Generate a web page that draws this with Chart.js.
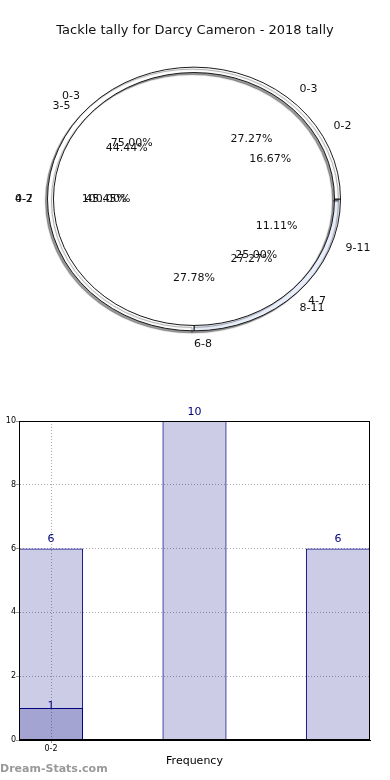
<!DOCTYPE html>
<html>
<head>
<meta charset="utf-8">
<script src="https://cdn.jsdelivr.net/npm/chart.js@4.4.1/dist/chart.umd.min.js"></script>
<style>
    body { margin: 0; background: #fff; font-family: 'DejaVu Sans', sans-serif; }
    #page { position: relative; width: 390px; height: 780px; overflow: hidden; }
    #title { position: absolute; top: 22px; left: 0; width: 390px; text-align: center; font-size: 13px; color: #111; }
    #pie-wrap { position: absolute; left: 0; top: 0; width: 390px; height: 380px; }
    #bar-wrap { position: absolute; left: 0; top: 380px; width: 390px; height: 400px; }
    #watermark { position: absolute; left: 0; top: 762px; font-size: 11px; font-weight: bold; color: #999; }
</style>
</head>
<body>
<div id="page">
    <div id="pie-wrap"><canvas id="pie-canvas"></canvas></div>
    <div id="title">Tackle tally for Darcy Cameron - 2018 tally</div>
    <div id="bar-wrap"><canvas id="bar-canvas"></canvas></div>
    <div id="watermark">Dream-Stats.com</div>
</div>
<script>
// four overlapping pies (matplotlib order: counter-clockwise from east)
const pieLabelsA = ['0-3', '4-7', '8-11'];
const pieValuesA = [3, 5, 3];
const pieLabelsB = ['0-2', '3-5', '6-8', '9-11'];
const pieValuesB = [3, 8, 5, 2];
const pieLabelsC = ['0-3', '4-7'];
const pieValuesC = [3, 1];
const pieLabelsD = ['0-2'];
const pieValuesD = [1];

// bar chart
const barPositions = [0, 1, 2];
const barTotals = [6, 10, 6];
const barSubPositions = [0];
const barSubValues = [1];
const xTickLabels = ['0-2'];

const squash = 0.9;
const labelFont = '11px "DejaVu Sans", sans-serif';

function pieSet(labels, values, extra) {
    // chart.js goes clockwise, so reverse to get the counter-clockwise look
    return Object.assign({
        data: values.slice().reverse(),
        sliceLabels: labels.slice().reverse(),
        clip: false,
        borderWidth: 1,
    }, extra);
}

const hiddenSlice = { backgroundColor: 'rgba(0,0,0,0)', borderColor: 'rgba(0,0,0,0)', borderWidth: 0, weight: 0 };

const pieLook = {
    id: 'pieLook',
    beforeDatasetsDraw(chart) {
        const { ctx, chartArea } = chart;
        const cx = (chartArea.left + chartArea.right) / 2;
        const cy = (chartArea.top + chartArea.bottom) / 2;
        ctx.save();
        ctx.translate(cx, cy);
        ctx.scale(1, squash);
        ctx.translate(-cx, -cy);
    },
    beforeDatasetDraw(chart, args) {
        const ctx = chart.ctx;
        ctx.save();
        const shadow = chart.data.datasets[args.index].shadow;
        if (shadow) {
            ctx.shadowColor = shadow;
            ctx.shadowOffsetX = -2;
            ctx.shadowOffsetY = 2;
            ctx.shadowBlur = 1;
        }
    },
    afterDatasetDraw(chart) {
        chart.ctx.restore();
    },
    afterDatasetsDraw(chart) {
        const ctx = chart.ctx;
        ctx.restore();
        const R = chart.getDatasetMeta(0).data[0].outerRadius;
        ctx.save();
        ctx.font = labelFont;
        ctx.fillStyle = '#111';
        ctx.textBaseline = 'middle';
        chart.data.datasets.forEach((ds, i) => {
            const meta = chart.getDatasetMeta(i);
            const total = ds.data.reduce((a, b) => a + b, 0);
            meta.data.forEach((arc, j) => {
                const mid = (arc.startAngle + arc.endAngle) / 2;
                const cos = Math.cos(mid);
                const sin = Math.sin(mid);
                ctx.textAlign = cos >= 0 ? 'left' : 'right';
                ctx.fillText(ds.sliceLabels[j], arc.x + 1.1 * R * cos, arc.y + 1.1 * R * sin * squash);
                ctx.textAlign = 'center';
                const pct = (ds.data[j] / total * 100).toFixed(2) + '%';
                ctx.fillText(pct, arc.x + 0.6 * R * cos, arc.y + 0.6 * R * sin * squash);
            });
        });
        ctx.restore();
    }
};

const pieChart = new Chart(document.getElementById('pie-canvas'), {
    type: 'pie',
    data: {
        datasets: [
            pieSet(pieLabelsC, pieValuesC, {
                backgroundColor: ['#e9eefb', '#ffffff'],
                borderColor: ['#111', '#111'],
                weight: 6,
                shadow: 'rgba(0, 0, 0, 0.4)',
            }),
            pieSet(pieLabelsA, pieValuesA, hiddenSlice),
            pieSet(pieLabelsB, pieValuesB, hiddenSlice),
            pieSet(pieLabelsD, pieValuesD, {
                backgroundColor: ['#ffffff'],
                borderWidth: 0,
                weight: 141,
                shadow: 'rgba(0, 0, 0, 0.5)',
            }),
        ],
    },
    options: {
        responsive: true,
        maintainAspectRatio: false,
        animation: false,
        rotation: 90,
        layout: { padding: { left: 47, right: 49, top: 52, bottom: 34 } },
        plugins: {
            legend: { display: false },
            tooltip: { enabled: false },
        },
    },
    plugins: [pieLook],
});

const barLook = {
    id: 'barLook',
    afterDatasetsDraw(chart) {
        const { ctx, chartArea } = chart;
        ctx.save();
        ctx.strokeStyle = '#000';
        ctx.lineWidth = 1;
        ctx.strokeRect(Math.round(chartArea.left) + 0.5, Math.round(chartArea.top) + 0.5,
            Math.round(chartArea.width) - 1, Math.round(chartArea.height) - 1);
        ctx.font = labelFont;
        ctx.fillStyle = '#000080';
        ctx.textAlign = 'center';
        ctx.textBaseline = 'middle';
        chart.data.datasets.forEach((ds, i) => {
            const meta = chart.getDatasetMeta(i);
            meta.data.forEach((bar, j) => {
                ctx.fillText(String(ds.data[j].y), bar.x, bar.y - ds.labelLift);
            });
        });
        ctx.restore();
    }
};

const tickFont = { family: 'DejaVu Sans', size: 8 };

const barChart = new Chart(document.getElementById('bar-canvas'), {
    type: 'bar',
    data: {
        datasets: [
            {
                data: barPositions.map((x, i) => ({ x, y: barTotals[i] })),
                backgroundColor: 'rgba(0, 0, 128, 0.2)',
                borderColor: '#000080',
                borderWidth: 1,
                grouped: false,
                labelLift: 9,
            },
            {
                data: barSubPositions.map((x, i) => ({ x, y: barSubValues[i] })),
                backgroundColor: 'rgba(0, 0, 128, 0.2)',
                borderColor: '#000080',
                borderWidth: 1,
                grouped: false,
                labelLift: 2,
            },
        ],
    },
    options: {
        responsive: true,
        maintainAspectRatio: false,
        animation: false,
        barPercentage: 0.447,
        categoryPercentage: 1,
        layout: { padding: { left: 0, right: 20, top: 41, bottom: 0 } },
        scales: {
            x: {
                type: 'linear',
                offset: false,
                min: -0.2235,
                max: 2.2235,
                afterBuildTicks: (scale) => {
                    scale.ticks = xTickLabels.map((t, i) => ({ value: barPositions[i] }));
                },
                afterFit: (scale) => { scale.height = 40; },
                ticks: {
                    font: tickFont,
                    color: '#000',
                    padding: 1,
                    maxRotation: 0,
                    callback: (value) => xTickLabels[barPositions.indexOf(value)],
                },
                grid: { offset: false, color: '#aaaaaa', tickLength: 3, tickColor: '#999' },
                border: { color: '#000', dash: [1, 2] },
                title: {
                    display: true,
                    text: 'Frequency',
                    color: '#000',
                    font: { family: 'DejaVu Sans', size: 11 },
                    padding: { top: 0, bottom: 12 },
                },
            },
            y: {
                min: 0,
                max: 10,
                afterFit: (scale) => { scale.width = 19; },
                ticks: { stepSize: 2, font: tickFont, color: '#000', padding: 0 },
                grid: { color: '#aaaaaa', tickLength: 3, tickColor: '#999' },
                border: { color: '#000', dash: [1, 2] },
            },
        },
        plugins: {
            legend: { display: false },
            tooltip: { enabled: false },
        },
    },
    plugins: [barLook],
});
</script>
</body>
</html>
